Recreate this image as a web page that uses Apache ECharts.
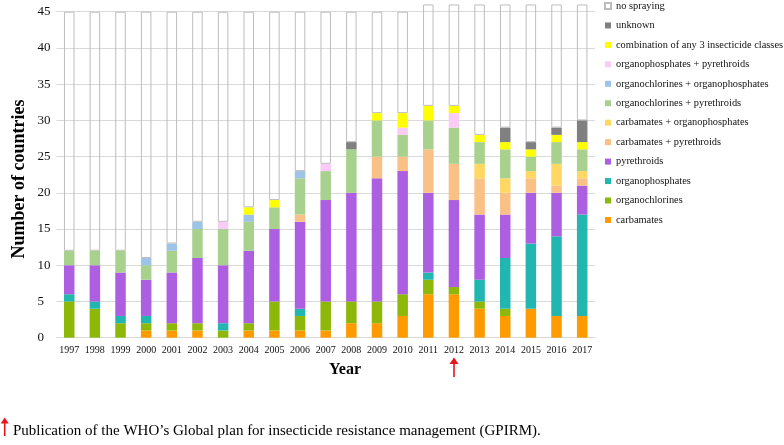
<!DOCTYPE html>
<html>
<head>
<meta charset="utf-8">
<script src="https://cdn.jsdelivr.net/npm/echarts@6/dist/echarts.min.js"></script>
<style>html,body{margin:0;padding:0;background:#fff}#c{width:784px;height:445px}</style>
</head>
<body>
<div id="c"></div>
<script>
var years = ['1997','1998','1999','2000','2001','2002','2003','2004','2005','2006','2007','2008','2009','2010','2011','2012','2013','2014','2015','2016','2017'];
var yTicks = [0,5,10,15,20,25,30,35,40,45];

var carbamates            = [0,0,0,1,1,1,0,1,1,1,1,2,2,3,6,6,4,3,4,3,3];
var organochlorines       = [5,4,2,1,1,1,1,1,4,2,4,3,3,3,2,1,1,1,0,0,0];
var organophosphates      = [1,1,1,1,0,0,1,0,0,1,0,0,0,0,1,0,3,7,9,11,14];
var pyrethroids           = [4,5,6,5,7,9,8,10,10,12,14,15,17,17,11,12,9,6,7,6,4];
var carbPyr               = [0,0,0,0,0,0,0,0,0,1,0,0,3,2,6,5,5,3,2,1,1];
var carbOrganophos        = [0,0,0,0,0,0,0,0,0,0,0,0,0,0,0,0,2,2,1,3,1];
var organochlPyr          = [2,2,3,2,3,4,5,4,3,5,4,6,5,3,4,5,3,4,2,3,3];
var organochlOrganophos   = [0,0,0,1,1,1,0,1,0,1,0,0,0,0,0,0,0,0,0,0,0];
var organophosPyr         = [0,0,0,0,0,0,1,0,0,0,1,0,0,1,0,2,0,0,0,0,0];
var combo3                = [0,0,0,0,0,0,0,1,1,0,0,0,1,2,2,1,1,1,1,1,1];
var unknown               = [0,0,0,0,0,0,0,0,0,0,0,1,0,0,0,0,0,2,1,1,3];
var noSpraying            = [33,33,33,34,32,29,29,27,26,22,21,18,14,14,14,14,18,17,19,17,16];

var seriesDefs = [
  ['carbamates', carbamates, '#FF9A00'],
  ['organochlorines', organochlorines, '#8DB80A'],
  ['organophosphates', organophosphates, '#22B6B0'],
  ['pyrethroids', pyrethroids, '#AD5FE2'],
  ['carbamates + pyrethroids', carbPyr, '#F9C186'],
  ['carbamates + organophosphates', carbOrganophos, '#FFD763'],
  ['organochlorines + pyrethroids', organochlPyr, '#A8D18D'],
  ['organochlorines + organophosphates', organochlOrganophos, '#9DC3E6'],
  ['organophosphates + pyrethroids', organophosPyr, '#FACBF6'],
  ['combination of any 3 insecticide classes', combo3, '#FFFF00'],
  ['unknown', unknown, '#808080'],
  ['no spraying', noSpraying, null]
];

var FONT = 'Liberation Serif';
var series = seriesDefs.map(function (d) {
  var s = {
    name: d[0], type: 'bar', stack: 'total', data: d[1], barWidth: '41%',
    itemStyle: d[2] ? { color: d[2] } : { color: 'rgba(255,255,255,0)', borderColor: '#BDBDBD', borderWidth: 1 }
  };
  if (!d[2]) s.clip = false;
  return s;
});

var chart = echarts.init(document.getElementById('c'), null, { renderer: 'canvas' });
chart.setOption({
  animation: false,
  backgroundColor: '#fff',
  grid: { left: 56.4, right: 189, top: 11.7, bottom: 107.3, containLabel: false },
  legend: {
    orient: 'vertical', left: 604, top: 0, padding: 0,
    data: seriesDefs.map(function (d) { return d[0]; }).reverse(),
    icon: 'rect', itemWidth: 6, itemHeight: 6, itemGap: 7.45,
    textStyle: { fontFamily: FONT, fontSize: 10.4, lineHeight: 12, color: '#111' },
    selectedMode: false
  },
  xAxis: {
    type: 'category', data: years,
    axisLine: { lineStyle: { color: '#D9D9D9' } },
    axisTick: { show: false },
    axisLabel: { fontFamily: FONT, fontSize: 10, color: '#111', margin: 8, interval: 0 }
  },
  yAxis: {
    type: 'value', min: 0, max: 45, interval: 5,
    axisLine: { show: false }, axisTick: { show: false },
    splitLine: { lineStyle: { color: '#D9D9D9' } },
    axisLabel: {
      fontFamily: FONT, fontSize: 13, color: '#111', margin: 19, align: 'left',
      formatter: function (v) { return yTicks.indexOf(v) >= 0 ? String(v) : ''; }
    }
  },
  graphic: [
    { type: 'text', x: 19, y: 179, rotation: Math.PI / 2,
      style: { text: 'Number of countries', font: 'bold 18px "Liberation Serif"', fill: '#000', textAlign: 'center', textVerticalAlign: 'middle' } },
    { type: 'text', x: 345, y: 370,
      style: { text: 'Year', font: 'bold 16px "Liberation Serif"', fill: '#000', textAlign: 'center', textVerticalAlign: 'middle' } },
    { type: 'line', shape: { x1: 454, y1: 362, x2: 454, y2: 377 }, style: { stroke: '#E8141B', lineWidth: 1.6 } },
    { type: 'polygon', shape: { points: [[454, 357.5], [449.5, 364], [458.5, 364]] }, style: { fill: '#E8141B' } },
    { type: 'line', shape: { x1: 4.7, y1: 422, x2: 4.7, y2: 436 }, style: { stroke: '#E8141B', lineWidth: 1.6 } },
    { type: 'polygon', shape: { points: [[4.7, 417.5], [0.7, 423.5], [8.7, 423.5]] }, style: { fill: '#E8141B' } },
    { type: 'text', x: 13, y: 431,
      style: { text: 'Publication of the WHO\u2019s Global plan for insecticide resistance management (GPIRM).', font: '15px "Liberation Serif"', fill: '#000', textAlign: 'left', textVerticalAlign: 'middle' } }
  ],
  series: series
});
</script>
</body>
</html>
